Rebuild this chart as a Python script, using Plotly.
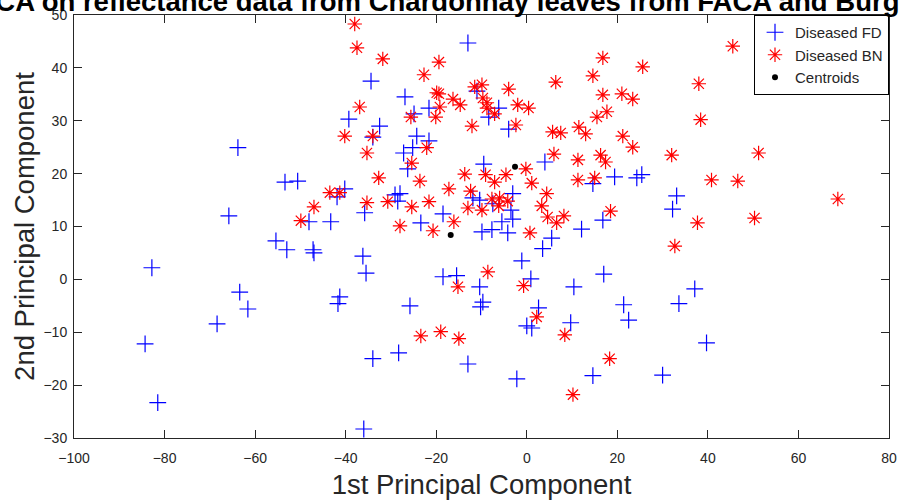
import plotly.graph_objects as go

# Diseased FD (blue +)
fd_x = [-13.0, -34.4, -26.9, -21.6, -24.9, -39.3, -32.5, -34.0, -24.3, -21.6, -25.2, -27.2, -63.8,
        -11.0, -6.2, -8.4, -4.0, -26.3, -53.4, -50.6, -40.2, -41.9, -29.1, -28.0, -28.5, -35.8,
        -18.5, -48.1, -43.3, -23.4, -55.4, -53.0, -47.2, -47.0, -36.2, -35.5, -18.5, -15.5, -41.3,
        -65.8, -82.8, -63.4, 4.0, -9.5, 14.6, 19.4, 24.3, 25.4, -11.9, -10.4, -3.1, -7.5, -3.5,
        -3.1, -5.5, 16.8, 12.1, -9.9, -7.7, -4.2, 5.5, 3.5, -1.1, 17.0, 0.9, -10.4, 10.4, 33.1,
        32.2, 37.1, -61.6, -68.4, -84.3, -81.5, -41.7, -25.8, -34.0, -28.3, -13.0, -36.0, -9.7,
        -10.2, 21.4, 33.6, 2.6, 0.0, 1.1, 9.7, 22.5, 39.7, -2.2, 14.6, 30.0]
fd_y = [44.7, 37.5, 34.5, 32.4, 31.3, 30.3, 29.0, 26.9, 27.1, 26.2, 24.9, 23.9, 24.9,
        35.6, 32.4, 30.7, 28.4, 20.9, 18.4, 18.6, 17.1, 15.6, 16.0, 16.2, 14.8, 12.6,
        12.4, 10.9, 10.9, 10.7, 7.3, 5.6, 5.6, 5.0, 4.4, 1.2, 0.5, 0.7, -3.3,
        12.0, 2.2, -2.4, 22.2, 21.8, 18.1, 19.4, 19.2, 19.8, 15.4, 15.0, 16.2, 14.3, 13.1,
        11.4, 10.9, 11.2, 9.5, 9.0, 9.4, 8.8, 7.8, 5.8, 3.5, 1.0, 0.1, -1.4, -1.4, 15.8,
        13.3, -1.8, -5.6, -8.4, -12.2, -23.3, -4.6, -5.0, -15.0, -13.9, -16.0, -28.3, -4.3,
        -5.2, -4.8, -4.6, -5.4, -8.8, -9.2, -8.2, -7.7, -12.0, -18.8, -18.2, -18.1]

# Diseased BN (red *)
bn_x = [-38.0, -37.5, -31.8, -19.4, -22.7, -19.9, -19.4, -16.3, -14.7, -19.2, -36.9, -25.6, -20.1,
        -40.2, -34.0, -22.1, -35.3, -25.4, 16.8, 25.6, 14.6, 6.4, -11.5, -9.9, -4.0, 16.8, 21.0,
        23.4, -9.7, -8.8, -8.8, -2.0, 0.4, -7.1, 17.7, 15.5, -12.1, -2.4, 5.7, 7.5, 11.5, 13.0,
        21.2, 23.4, 6.0, 16.3, 45.5, 38.0, 38.4, 32.0, 51.2, -32.7, -23.6, -17.2, -43.5, -41.3,
        -35.3, -30.7, -25.4, -21.6, -47.0, -16.1, -49.9, -28.0, -20.7, -15.2, 11.3, 17.4, -0.2,
        -13.7, -9.1, -4.6, -7.1, 1.1, 11.3, 15.0, -12.4, 4.4, -7.7, -6.0, -4.2, -6.2, -13.0,
        -9.9, 3.3, 4.6, 6.6, 8.2, 18.5, 0.7, -8.6, -0.7, 40.8, 46.6, 68.7, 37.7, 50.3, 32.7,
        -23.4, -19.0, -15.0, 2.2, 8.4, 18.3, 10.2]
bn_y = [48.3, 43.8, 41.7, 41.1, 38.7, 35.3, 35.1, 34.1, 33.0, 32.6, 32.6, 30.7, 30.7,
        27.1, 27.1, 24.9, 23.9, 22.0, 41.9, 40.2, 38.5, 37.3, 36.4, 36.8, 36.0, 34.9, 35.1,
        34.1, 34.3, 33.4, 32.4, 33.0, 32.4, 31.3, 31.7, 30.7, 29.0, 29.2, 27.9, 27.7, 28.8, 27.5,
        27.1, 25.0, 23.7, 23.5, 44.1, 37.0, 30.2, 23.5, 23.9, 19.2, 18.6, 17.1, 16.4, 16.4,
        14.5, 14.7, 13.7, 14.7, 13.7, 10.9, 11.1, 10.1, 9.2, -1.4, 22.6, 22.2, 20.9,
        19.9, 19.8, 19.8, 18.4, 18.2, 18.8, 19.2, 16.7, 16.2, 15.2, 15.4, 14.8, 13.9, 13.5,
        13.1, 13.9, 11.8, 10.7, 12.0, 12.9, 8.8, 1.4, -1.2, 18.8, 18.6, 15.2, 10.7, 11.6, 6.3,
        -10.7, -9.9, -11.2, -7.1, -10.5, -15.0, -21.8]

# Centroids
cen_x = [-16.8, -2.6]
cen_y = [8.4, 21.3]

x_ticks = [-100, -80, -60, -40, -20, 0, 20, 40, 60, 80]
y_ticks = [-30, -20, -10, 0, 10, 20, 30, 40, 50]

title_text = "PCA on reflectance data from Chardonnay leaves from FACA and Burgundy"
font_family = "Liberation Sans, Arial, Helvetica, sans-serif"
axis_color = "#262626"

fig = go.Figure()
fig.add_trace(go.Scatter(x=fd_x, y=fd_y, mode="markers", name="Diseased FD",
                         marker=dict(symbol="cross-thin-open", size=12, color="#0000ff",
                                     line=dict(color="#0000ff", width=1.2))))
fig.add_trace(go.Scatter(x=bn_x, y=bn_y, mode="markers", name="Diseased BN",
                         marker=dict(symbol="asterisk-open", size=12, color="#ff0000",
                                     line=dict(color="#ff0000", width=1.2))))
fig.add_trace(go.Scatter(x=cen_x, y=cen_y, mode="markers", name="Centroids",
                         marker=dict(symbol="circle", size=6, color="#000000")))

axis_common = dict(showgrid=False, zeroline=False, showline=True, mirror="ticks",
                   linecolor=axis_color, linewidth=1, ticks="inside", ticklen=8, automargin=False,
                   tickcolor=axis_color, tickfont=dict(size=14, color=axis_color, family=font_family))

fig.update_xaxes(range=[-100, 80], tickvals=x_ticks, ticklabelstandoff=7,
                 title=dict(text="1st Principal Component", font=dict(size=27.5, color=axis_color, family=font_family), standoff=13),
                 **axis_common)
fig.update_yaxes(range=[-30, 50], tickvals=y_ticks, ticklabelstandoff=3,
                 title=dict(text="2nd Principal Component", font=dict(size=27.5, color=axis_color, family=font_family), standoff=0),
                 **axis_common)

fig.add_annotation(text="<b>" + title_text + "</b>", xref="paper", yref="paper",
                   x=-0.121, y=1.033, xanchor="left", yanchor="middle", showarrow=False,
                   font=dict(size=27.5, color="#000000", family=font_family))

fig.update_layout(
    width=900, height=500,
    margin=dict(l=74, r=11, t=15, b=62),
    paper_bgcolor="white", plot_bgcolor="white",
    font=dict(family=font_family),
    legend=dict(x=1, y=1, xanchor="right", yanchor="top", bgcolor="white",
                bordercolor="#000000", borderwidth=1,
                font=dict(size=15, color=axis_color, family=font_family)),
)

fig.write_html("out.html", config={"displayModeBar": False},
               post_script="document.body.style.margin='0';")
